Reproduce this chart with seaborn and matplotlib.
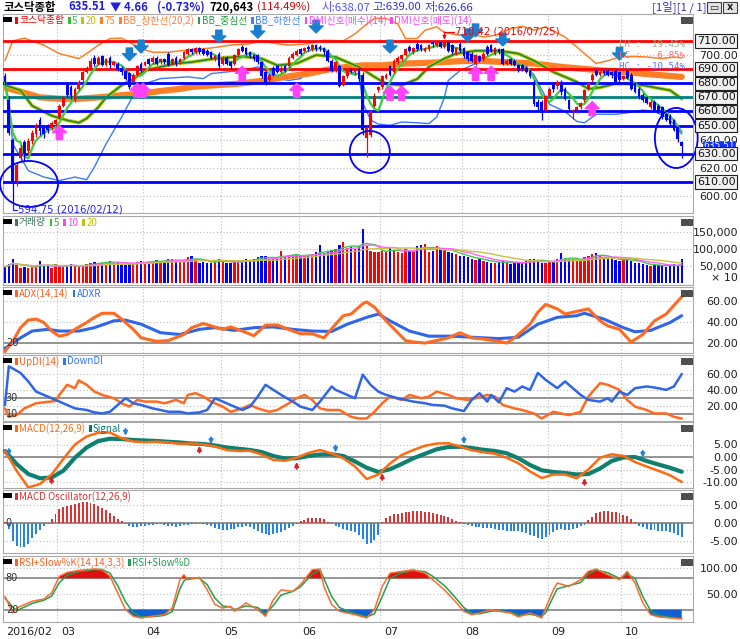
import numpy as np
import pandas as pd
import matplotlib
matplotlib.use("Agg")
import matplotlib.pyplot as plt
import matplotlib.transforms as mtransforms
from matplotlib.patches import Ellipse, Rectangle
import seaborn as sns

sns.set_theme(style="white")
plt.rcParams["font.family"] = ["DejaVu Sans", "Noto Sans CJK KR"]
plt.rcParams["axes.unicode_minus"] = False
KR = ["Noto Sans CJK KR", "DejaVu Sans"]

# ---------------- data ----------------
month_start = [0, 14, 36, 56, 76, 97, 118, 140, 159]
month_label = ["2016/02", "03", "04", "05", "06", "07", "08", "09", "10"]

opens = np.array([
    685, 668, 640, 611, 627, 638, 632, 639, 644, 654,
    648, 650, 649, 651, 656, 664, 679, 677, 668, 676,
    682, 688, 691, 698, 694, 699, 693, 698, 693, 694,
    691, 689, 687, 681, 686, 694, 693, 697, 695, 698,
    695, 697, 701, 694, 698, 695, 698, 701, 704, 702,
    705, 704, 703, 702, 697, 701, 694, 698, 695, 694,
    700, 706, 705, 702, 700, 700, 695, 688, 682, 691,
    692, 688, 692, 692, 698, 700, 704, 703, 706, 704,
    707, 706, 705, 703, 696, 690, 692, 679, 685, 690,
    688, 690, 686, 641, 643, 664, 675, 677, 684, 692,
    688, 695, 697, 700, 706, 702, 708, 707, 703, 704,
    709, 707, 709, 706, 709, 707, 701, 708, 705, 702,
    701, 694, 699, 697, 706, 707, 701, 704, 704, 694,
    697, 696, 693, 693, 691, 689, 681, 667, 667, 661,
    671, 680, 678, 681, 676, 668, 660, 661, 663, 668,
    676, 682, 689, 686, 689, 689, 688, 689, 688, 683,
    689, 686, 680, 676, 672, 670, 663, 667, 664, 663,
    658, 657, 654, 649, 638.07])
closes = np.array([
    681, 645, 609, 622, 634, 630, 639, 645, 650, 646,
    644, 647, 652, 654, 664, 670, 672, 671, 676, 681,
    688, 691, 696, 694, 698, 693, 697, 693, 695, 690,
    688, 683, 677, 686, 692, 689, 695, 694, 698, 694,
    697, 695, 693, 697, 694, 697, 702, 704, 702, 705,
    702, 701, 700, 698, 699, 692, 698, 694, 692, 700,
    704, 703, 701, 699, 697, 695, 685, 681, 686, 686,
    688, 691, 689, 698, 701, 703, 701, 705, 704, 707,
    704, 704, 702, 696, 689, 695, 678, 685, 689, 688,
    690, 683, 647, 648, 660, 671, 677, 685, 686, 686,
    696, 698, 700, 704, 703, 705, 704, 704, 705, 707,
    708, 709, 706, 709, 703, 702, 705, 703, 699, 697,
    696, 700, 696, 701, 701, 703, 705, 702, 694, 696,
    694, 693, 689, 690, 688, 685, 665, 663, 659, 671,
    676, 676, 681, 674, 669, 662, 661, 663, 666, 675,
    680, 686, 686, 688, 687, 686, 686, 681, 682, 685,
    684, 676, 674, 670, 668, 666, 667, 661, 660, 656,
    654, 651, 647, 640.17, 635.51])
highs = np.array([
    687, 671, 641, 624, 636, 640, 641, 647, 652, 656,
    649, 651, 653, 655, 665, 671, 681, 679, 677, 682,
    689, 692, 698, 700, 699, 700, 698, 699, 696, 695,
    692, 690, 688, 687, 693, 695, 696, 698, 699, 699,
    698, 698, 702, 698, 699, 698, 703, 705, 705, 706,
    706, 705, 704, 703, 700, 702, 699, 699, 696, 701,
    705, 707, 706, 703, 701, 701, 696, 689, 687, 692,
    693, 692, 693, 699, 702, 704, 705, 706, 707, 708,
    708, 707, 706, 704, 697, 696, 693, 686, 690, 691,
    691, 691, 688, 650, 661, 673, 678, 686, 687, 693,
    697, 699, 701, 705, 707, 706, 709, 708, 706, 708,
    709.5, 709.8, 709.6, 710.42, 710, 708, 706, 709, 706, 703,
    702, 701, 700, 702, 707, 708, 706, 705, 705, 697,
    698, 697, 694, 694, 692, 690, 682, 669, 668, 672,
    677, 681, 682, 682, 677, 669, 662, 664, 667, 676,
    681, 687, 690, 689, 690, 690, 689, 690, 689, 686,
    690, 687, 681, 677, 673, 671, 668, 668, 665, 664,
    659, 658, 655, 650, 639])
lows = np.array([
    679, 643, 594.75, 607, 625, 625, 630, 637, 642, 643,
    641, 645, 647, 650, 655, 663, 670, 669, 667, 675,
    681, 687, 690, 692, 693, 692, 692, 691, 692, 689,
    686, 682, 676, 680, 685, 688, 692, 693, 694, 693,
    694, 694, 692, 693, 692, 694, 697, 700, 701, 701,
    701, 700, 699, 697, 696, 690, 693, 693, 690, 693,
    699, 702, 700, 698, 696, 694, 684, 679, 681, 685,
    687, 687, 688, 691, 697, 699, 700, 702, 703, 703,
    703, 703, 700, 695, 688, 688, 677, 678, 684, 687,
    686, 681, 643, 628, 642, 663, 674, 676, 683, 685,
    687, 694, 696, 699, 702, 701, 703, 703, 702, 703,
    706, 706, 705, 705, 702, 701, 700, 702, 698, 696,
    695, 693, 695, 696, 700, 702, 700, 701, 693, 693,
    693, 692, 688, 689, 687, 684, 664, 660, 654, 660,
    670, 674, 676, 672, 668, 661, 655, 659, 662, 667,
    675, 681, 685, 685, 686, 685, 684, 680, 681, 682,
    683, 675, 673, 669, 667, 665, 662, 660, 659, 655,
    653, 650, 646, 638, 626.66])
# volume in thousands (axis labelled x10)
volume = np.array([
    48, 55, 70, 52, 45, 48, 43, 46, 50, 64, 50, 52, 44, 55,
    50, 48, 52, 55, 50, 46, 52, 55, 60, 62, 58, 60, 62, 65, 60, 58, 55, 53, 56, 60, 62, 64,
    60, 63, 65, 68, 62, 66, 72, 70, 64, 62, 68, 75, 78, 72, 60, 62, 58, 60, 65, 70,
    62, 58, 60, 66, 62, 65, 70, 68, 72, 75, 80, 78, 70, 72, 75, 95, 80, 78, 82, 85,
    78, 82, 80, 85, 90, 111, 88, 92, 95, 100, 113, 122, 103, 105, 100, 108, 160, 108, 95, 92, 90,
    95, 92, 105, 98, 90, 88, 100, 95, 92, 110, 112, 115, 90, 95, 108, 100, 96, 92, 88, 85, 80,
    78, 75, 70, 68, 72, 65, 62, 58, 60, 62, 65, 58, 55, 60, 62, 58, 65, 70, 72, 68, 60, 58,
    62, 65, 70, 87, 72, 68, 70, 65, 72, 75, 80, 85, 88, 78, 75, 72, 70, 68, 65,
    68, 72, 65, 60, 58, 55, 52, 50, 55, 52, 50, 48, 52, 55, 50, 72])

ma20_day = [0, 4, 7, 12, 16, 19, 21, 24, 26, 30, 33, 36, 40, 44, 48, 54, 61, 66, 70, 75,
            80, 85, 88, 91, 95, 98, 102, 106, 109, 113, 116, 121, 127, 132, 136, 141, 147,
            150, 153, 157, 160, 164, 167, 171, 174]
ma20 = [678.6, 675, 664, 657, 653.7, 652, 655, 663, 670, 678.6, 683, 689, 691.6, 694, 695,
        697.5, 699, 697.5, 692.7, 694, 700, 698.6, 695, 691.6, 684.5, 679.7, 678.6, 683,
        691.6, 697.5, 701, 703, 703, 701, 696, 688, 681, 676, 677, 679.7, 679.7, 678.6,
        677, 675, 669]
ma75_day = [0, 4, 9, 14, 19, 24, 30, 35, 40, 45, 48, 54, 60, 67, 72, 78, 83, 88, 92, 97,
            103, 108, 113, 118, 123, 128, 133, 136, 143, 148, 153, 159, 164, 169, 174]
ma75 = [677, 674, 670, 669, 669, 670, 671.5, 672.6, 674.5, 676, 677.4, 678.6, 679.7, 682,
        684.5, 686.8, 689.7, 691.6, 692.7, 692.7, 694, 694.4, 695, 695.8, 695.8, 695, 694.4,
        694, 691.6, 690.4, 689.2, 688, 686.8, 685.6, 684.5]
bbu_day = [0, 2, 5, 10, 14, 19, 21, 24, 27, 30, 32, 35, 38, 42, 45, 47, 53, 58, 63, 66, 70,
           73, 78, 82, 87, 90, 93, 95, 98, 101, 103, 106, 108, 111, 113, 117, 120, 123, 126,
           130, 133, 136, 139, 144, 148, 152, 155, 158, 162, 165, 169, 172, 174]
bbu = [696, 710, 712, 707, 701, 697.5, 701, 707, 711.7, 712, 709, 704.6, 702, 702, 703,
       703.4, 705, 707, 708, 710, 708, 707, 708, 710.5, 710, 715, 722, 726, 726, 722, 711.7,
       711.7, 717.6, 720, 716, 714, 715, 712.8, 714, 718.7, 720.4, 717.6, 720, 712.8, 703.4,
       694, 696, 698.6, 699, 698.6, 697.5, 698.6, 698]
bbl_day = [0, 1, 2, 4, 6, 10, 14, 18, 21, 23, 26, 30, 33, 36, 40, 44, 47, 51, 53, 57, 61, 65,
           66, 68, 70, 73, 76, 78, 82, 85, 88, 91, 92, 94, 96, 99, 102, 106, 109, 111, 113,
           114, 117, 120, 123, 126, 130, 133, 136, 140, 144, 147, 149, 152, 157, 160, 164,
           167, 170, 172, 174]
bbl = [679.7, 668, 637, 627.7, 618, 613.5, 611, 613.5, 611.6, 620.6, 637, 656, 671.5, 679.7,
       683.3, 684, 684.5, 683.3, 686.8, 688, 689, 691.6, 690.4, 686.8, 683.3, 682, 683.3, 688,
       689, 689.7, 689, 686, 666, 654, 651, 650.2, 652.5, 652, 651.4, 656, 670, 682, 689,
       692.7, 696, 696.8, 696, 695, 686, 665, 660, 653, 652, 658, 658, 659, 661, 660, 656,
       651, 644]

buy_day = [14, 34, 35.5, 61, 75, 99, 102, 121, 125, 151]
buy_tip = [650, 680, 680, 692, 680, 678, 678, 692, 692, 667]
sell_day = [32, 35, 55, 65, 80, 99, 119, 121, 128, 158]
sell_tip = [696, 701.5, 708.6, 712, 715.7, 701.5, 709.5, 713, 706.5, 696.5]
levels = [710, 690, 680, 670, 660, 650, 630, 610]
level_color = ["#ff0000", "#ff0000", "#0000ff", "#008080", "#0000ff", "#0000ff", "#0000ff", "#0000ff"]

adx_day = [0, 2, 4, 6, 8, 10, 12, 14, 16, 18, 21, 23, 25, 28, 30, 33, 35, 39, 42, 46, 48, 51,
           53, 56, 58, 61, 64, 67, 70, 74, 76, 79, 82, 85, 87, 89, 92, 93, 95, 98, 101, 103,
           105, 108, 110, 114, 117, 120, 124, 127, 129, 131, 135, 137, 139, 142, 144, 148,
           150, 153, 155, 158, 160, 161, 164, 167, 170, 172, 174]
adx = [12, 21.6, 34.6, 41.8, 42.8, 39.5, 31.4, 26.5, 28.1, 33, 39.5, 44.4, 48.3, 48.3, 42.8,
       33, 24.9, 21.6, 22.3, 28.1, 34.6, 38.5, 36.3, 33, 35.3, 31.4, 27, 37, 37.2, 31.4, 28.8,
       28.8, 24.9, 37.9, 46, 47.6, 57.4, 59, 54.1, 41.1, 29.8, 22.3, 21, 20, 21.6, 24.9, 29.8,
       24.9, 23.3, 21.6, 20, 24.9, 37.9, 49.3, 56.7, 52.5, 47.6, 50.9, 52.5, 41.1, 36.3, 33,
       24.9, 21, 28.1, 41.1, 47.6, 55.8, 63.9]
adxr_day = [0, 4, 7, 11, 14, 19, 23, 28, 31, 35, 40, 45, 50, 54, 59, 64, 69, 74, 79, 84, 88,
            93, 96, 99, 104, 109, 115, 120, 127, 132, 137, 142, 147, 149, 154, 159, 162, 166,
            171, 174]
adxr = [15, 24.9, 31.4, 33, 31.4, 31.4, 34.6, 41.1, 41.8, 37.9, 29.8, 28.1, 33, 34.6, 32,
        34.6, 35.3, 33, 31.4, 31, 37.9, 44.4, 47.6, 41.1, 31.4, 26.5, 26.5, 25.5, 24.2, 25.5,
        37.9, 44.4, 46, 48.3, 42.8, 34.6, 30.7, 32, 39.5, 46]

updi_day = [0, 1, 3, 5, 8, 10, 13, 14, 16, 18, 19, 21, 23, 25, 28, 30, 32, 34, 36, 39, 41, 44,
            46, 47, 49, 51, 53, 56, 58, 61, 63, 65, 68, 70, 73, 75, 77, 79, 81, 83, 86, 89, 91,
            93, 95, 97, 99, 102, 104, 107, 109, 111, 114, 116, 119, 121, 124, 126, 128, 131,
            133, 136, 138, 141, 143, 145, 148, 150, 153, 155, 158, 160, 162, 165, 167, 170,
            172, 174]
updi = [17, 6.5, 8.6, 17, 23.4, 24.6, 26.3, 33.9, 46.5, 42.3, 52, 46.5, 38, 33.9, 29.7, 23.4,
        19.2, 27.6, 25.5, 25.5, 23.4, 27.6, 23.4, 33.9, 36, 31.8, 25.5, 19.2, 12.8, 17, 21.3,
        17, 12.8, 15, 23.4, 29.7, 33.9, 27.6, 17, 15, 15, 6.5, 4.4, 4.4, 12.8, 23.4, 31.8,
        27.6, 33.9, 29.7, 31.8, 38, 33.9, 29.7, 27.6, 29.7, 33.9, 31.8, 21.3, 17, 15, 10.7,
        4.4, 12.8, 10.7, 8.6, 12.8, 31.8, 48.6, 46.5, 40.2, 27.6, 19.2, 15, 10.7, 10.7, 6.5,
        4.4]
dndi_day = [0, 1, 4, 6, 8, 11, 13, 16, 18, 21, 23, 25, 27, 29, 31, 33, 35, 38, 40, 42, 45, 47,
            50, 52, 54, 56, 58, 61, 63, 65, 67, 69, 71, 74, 76, 79, 81, 84, 85, 87, 90, 92, 94,
            96, 98, 101, 103, 105, 108, 110, 113, 115, 118, 120, 122, 124, 125, 127, 129, 131,
            133, 135, 137, 139, 142, 144, 145, 148, 150, 153, 155, 156, 158, 160, 162, 165,
            167, 170, 172, 174]
dndi = [21, 69.7, 61.3, 50.7, 38, 31.8, 27.6, 21.3, 17, 15, 12, 10.7, 12.8, 21.3, 29.7, 23.4,
        21.3, 17, 15, 12.8, 12.8, 10.7, 12, 15, 29.7, 25.5, 21.3, 15, 19.2, 31.8, 46.5, 40.2,
        33.9, 25.5, 19.2, 15, 25.5, 44.4, 40.2, 36, 29.7, 59.2, 46.5, 38, 33.9, 29.7, 27.6,
        25.5, 23.4, 21.3, 20.4, 17, 13.7, 27.6, 36, 25.5, 33.9, 24.6, 42.3, 38, 44.4, 40.2,
        61.3, 52.8, 42.3, 50.7, 46.5, 33.9, 27.6, 25.5, 29.7, 25.5, 38, 33.9, 42.3, 44.4,
        43.1, 40.2, 44.4, 60]

macd_day = list(range(0, 175, 3))
macd = [2.4, -5.5, -12.2, -10.8, -7, -0.8, 5, 8.2, 9.7, 9.8, 7.5, 6.2, 5.9, 6.1, 5.8, 5.3,
        5.4, 5, 4.2, 2.8, 2.4, 2.5, 1, -1.2, -1.5, -0.3, 1.6, 2.8, 1.4, -0.5, -3.8, -8.8, -7,
        -2.6, 0.8, 2.8, 4.5, 5.4, 5.5, 4.2, 2.7, 1.9, 1.3, -0.3, -2.5, -5.8, -8.4, -7, -7,
        -8.5, -5, -0.3, 1.1, 0.4, -2, -3.8, -5.5, -7.3, -10]
signal = [2.4, -2.8, -6.8, -8.5, -8.2, -5.5, -0.3, 3.8, 6.4, 7.3, 7.2, 6.8, 6.6, 6.4, 6.1,
          5.8, 5.4, 5.2, 4.6, 3.8, 3.3, 2.8, 2, 0.4, -0.6, -0.5, 0.4, 1, 1.1, 0.4, -1.8, -4.3,
          -6, -4.9, -2.8, -0.5, 1.3, 3.1, 4, 4.1, 3.6, 2.9, 2.4, 1.5, -0.5, -3.2, -5.3, -6,
          -6.4, -7, -6.8, -4.6, -1.6, -0.2, 0, -1.6, -3, -4.3, -5.9]
dead_day = [1, 31, 53, 85, 118, 164]
dead_tip = [0.4, 8.5, 5.1, 1.8, 5.1, -0.3]
gold_day = [12, 50, 75, 97, 149]
gold_tip = [-7.7, 4.5, -2, -6.4, -8.4]
osc = [0.2, -1.5, -5, -6.3, -6.7, -6.5, -5.8, -4.2, -3, -1.8,
       -0.9, -0.2, 1.2, 2.4, 3.8, 4.5, 4.8, 5.1, 5.3, 5.6,
       5.8, 5.9, 5.7, 5.3, 4.8, 4.2, 3.6, 2.8, 2, 1.2,
       0.5, -0.3, -0.8, -1, -1.1, -0.9, -0.8, -0.6, -0.4, -0.3,
       -0.3, -0.5, -0.8, -0.9, -1, -0.8, -0.6, -0.5, -0.3, -0.2,
       0.1, -0.2, -0.5, -0.9, -1.3, -1.6, -1.8, -1.9, -1.7, -1.5,
       -1.2, -1, -0.9, -1, -1.6, -2.3, -2.8, -3.1, -3.2, -3,
       -2.7, -2.4, -1.9, -1.3, -0.8, -0.2, 0.6, 1, 1.3, 1.5,
       1.5, 1.5, 1.2, 0.4, -0.3, -0.7, -1.2, -1.5, -1.8, -2.2,
       -2.6, -3.2, -4.5, -5.8, -5.6, -4.8, -3.2, 0.4, 1.3, 2,
       2.4, 2.6, 2.8, 3, 3.2, 3.4, 3.5, 3.4, 3.2, 3,
       2.8, 2.6, 2.3, 2, 1.6, 1.1, 0.7, 0.3, -0.3, -0.6,
       -0.9, -1, -1.2, -1.4, -1.3, -1.4, -1.6, -1.8, -2, -2.1,
       -2.2, -2.1, -2.3, -2.5, -2.8, -3.2, -3.6, -4, -4.3, -3.9,
       -3.2, -2.5, -2, -1.6, -1.8, -2, -1.7, -1.3, -0.9, -0.4,
       0.9, 1.8, 2.7, 3.1, 3.3, 3.3, 3.2, 3, 2.7, 2.3,
       1.9, 1.1, 0.3, -0.7, -1.2, -1.6, -1.8, -2, -2.1, -2.2,
       -2.3, -2.5, -2.8, -3.2, -3.8]

rsi_day = [0, 2, 3, 5, 7, 10, 12, 14, 16, 19, 23, 25, 27, 29, 31, 33, 35, 39, 41, 43, 45, 46,
           47, 50, 52, 54, 56, 58, 59, 62, 65, 67, 69, 71, 74, 76, 79, 81, 82, 84, 86, 90, 93,
           95, 97, 99, 102, 105, 108, 110, 113, 115, 118, 120, 122, 125, 127, 130, 132, 135,
           138, 139, 141, 142, 145, 148, 150, 152, 155, 158, 160, 162, 164, 166, 168, 171, 174]
slow_k = [45.5, 13.6, 23, 29.6, 36, 40.4, 52, 84, 91.5, 95.3, 98, 96.6, 84, 52, 20, 7.2, 4,
          8.5, 10.4, 23, 77.4, 87, 77.4, 82, 58, 29.6, 23, 26.4, 16.8, 32.8, 20, 7.2, 39, 58,
          55, 68, 96.6, 98, 64.7, 29.6, 16.8, 10.4, 4, 20, 64.7, 90, 93.4, 96.6, 90, 77.4, 58,
          42.3, 16.8, 10.4, 13.6, 20, 16.8, 13.6, 6, 13.6, 4, 23, 58, 71, 64.7, 77.4, 93.4, 98,
          87, 77.4, 93.4, 71, 32.8, 10.4, 6, 4, 2.1]
slow_d = [42, 25, 18, 25, 32, 38, 46, 72, 86, 93, 97, 97, 90, 66, 35, 14, 6, 7, 9, 16, 60, 75,
          80, 80, 68, 42, 27, 25, 20, 27, 24, 12, 28, 48, 55, 64, 88, 96, 80, 45, 24, 12, 6,
          12, 45, 80, 91, 95, 93, 84, 66, 50, 24, 13, 12, 17, 18, 15, 9, 11, 7, 14, 45, 60, 66,
          72, 88, 96, 91, 80, 88, 80, 45, 18, 9, 5, 3]

# ---------------- drawing ----------------
W, H = 740, 639
fig = plt.figure(figsize=(W / 100, H / 100), dpi=100)
fig.patch.set_facecolor("white")
renderer = fig.canvas.get_renderer()
days = np.arange(len(closes))
candle_col = np.where(closes >= opens, "#ff0000", "#0000ff")
DOT = (0, (1, 2))


def px(x, y):
    return x / W, 1 - y / H


def panel(top, bottom):
    ax = fig.add_axes([3 / W, 1 - bottom / H, 690 / W, (bottom - top) / H])
    ax.set_facecolor("white")
    ax.set_xticks([])
    for s in ax.spines.values():
        s.set_color("#a8a8a8")
        s.set_linewidth(0.8)
    for m in month_start[1:]:
        ax.axvline(m - 0.5, color="#bdbdbd", ls=DOT, lw=0.8, zorder=0)
    # little window buttons top-right
    for bx in (681, 687):
        fig.add_artist(Rectangle(px(bx, top + 9), 5 / W, 6 / H, transform=fig.transFigure,
                                 fc="#505050", ec="#202020", lw=0.5))
    return ax


def right_ticks(ax, ticks, labels, grid=True):
    ax.yaxis.tick_right()
    ax.set_yticks(ticks)
    ax.set_yticklabels(labels)
    ax.tick_params(axis="y", length=0, pad=32.4, labelsize=8, labelcolor="#202020")
    for lab in ax.get_yticklabels():
        lab.set_horizontalalignment("right")
    if grid:
        for t in ticks:
            ax.axhline(t, color="#bdbdbd", ls=DOT, lw=0.8, zorder=0)


def ref_line(ax, v, text=None):
    ax.axhline(v, color="#8c8c8c", lw=1.3, zorder=1)
    if text:
        tr = mtransforms.blended_transform_factory(ax.transAxes, ax.transData)
        ax.text(0.004, v, text, transform=tr, fontsize=7, color="#303030",
                va="center", ha="left", zorder=6)


def legend(top, items, fs=7):
    fig.add_artist(Rectangle(px(3, top + 8), 9 / W, 5 / H, transform=fig.transFigure,
                             fc="black", ec="none"))
    x = 15
    for label, color in items:
        fig.add_artist(Rectangle(px(x, top + 10), 2.5 / W, 7 / H, transform=fig.transFigure,
                                 fc=color, ec="none"))
        t = fig.text(*px(x + 4, top + 6.5), label, color=color, fontsize=fs,
                     va="center", ha="left", family=KR)
        x += 4 + t.get_window_extent(renderer).width + 4


def line(ax, x, y, color, lw, z=4):
    sns.lineplot(x=np.asarray(x), y=np.asarray(y, float), ax=ax, color=color,
                 linewidth=lw, zorder=z, legend=False, errorbar=None)


# ---- header ----
head = [(4, "코스닥종합", "#000000", True), (68, f"{closes[-1]:.2f}", "#2020e0", True),
        (110, f"▼ {closes[-2] - closes[-1]:.2f}", "#2020e0", True),
        (157, f"({(closes[-1] / closes[-2] - 1) * 100:.2f}%)", "#2020e0", True),
        (209, "720,643", "#000000", True), (257, "(114.49%)", "#e00000", False),
        (322, "시:638.07", "#5050ff", False), (372, "고:639.00", "#3030e0", False),
        (425, "저:626.66", "#3030e0", False), (652, "[1일][1 / 1]", "#3030c0", False)]
for x, s, c, b in head:
    fig.text(*px(x, 7), s, color=c, fontsize=8.2, va="center", ha="left", family=KR,
             fontweight="bold" if b else "normal")
for bx, s in ((707, "▭"), (723, "x")):
    fig.add_artist(Rectangle(px(bx, 13), 14 / W, 11 / H, transform=fig.transFigure,
                             fc="#e4e4e4", ec="#404040", lw=0.8))
    fig.text(*px(bx + 7, 7.5), s, fontsize=7, ha="center", va="center", color="#202020",
             fontweight="bold")

# ---- price panel ----
axp = panel(14, 213)
for v, c in zip(levels, level_color):
    axp.axhline(v, color=c, lw=2.0, zorder=3)
line(axp, bbu_day, bbu, "#ff7f27", 1.1, 2)
line(axp, bbl_day, bbl, "#3c78ff", 1.0, 2)
line(axp, ma75_day, ma75, "#ff7f27", 4.5, 2)
line(axp, ma20_day, ma20, "#c8c800", 2.6, 2)
line(axp, ma20_day, ma20, "#1e8a2e", 1.2, 2)
line(axp, days, pd.Series(closes).rolling(5, min_periods=1).mean(), "#3ccc3c", 1.6, 4)
axp.vlines(days, lows, highs, colors=candle_col, lw=0.9, zorder=5)
axp.bar(days, np.maximum(np.abs(closes - opens), 0.5), bottom=np.minimum(opens, closes),
        width=0.7, color=candle_col, linewidth=0, zorder=5)
for d, tip in zip(buy_day, buy_tip):
    axp.annotate("", xy=(d, tip), xytext=(d, tip - 10),
                 arrowprops=dict(arrowstyle="simple,head_length=0.5,head_width=1.0,tail_width=0.45",
                                 color="#ff40ff", mutation_scale=10, shrinkA=0, shrinkB=0), zorder=7)
for d, tip in zip(sell_day, sell_tip):
    axp.annotate("", xy=(d, tip), xytext=(d, tip + 9),
                 arrowprops=dict(arrowstyle="simple,head_length=0.5,head_width=1.0,tail_width=0.45",
                                 color="#1a7fd0", mutation_scale=10, shrinkA=0, shrinkB=0), zorder=7)
for cx, cy, w, h in [(6.2, 608.6, 14.9, 32.6), (93.8, 631.3, 10.3, 29.8), (172.6, 641.2, 11.0, 42.6)]:
    axp.add_patch(Ellipse((cx, cy), w, h, fill=False, ec="#0000ff", lw=1.3, zorder=8,
                          clip_on=False))
lo_d = int(np.argmin(lows))
axp.plot([lo_d, lo_d, lo_d + 1.1], [lows[lo_d], 590.3, 590.3], color="#2020ff", lw=0.9,
         zorder=8, clip_on=False)
axp.text(lo_d + 1.3, 590.3, f"{lows.min():.2f} (2016/02/12)", color="#2020ff", fontsize=7.3,
         va="center", ha="left", zorder=8, clip_on=False)
hi_d = int(np.argmax(highs))
axp.plot([hi_d + 2.4, hi_d], [716.4, 716.4], color="#ff0000", lw=0.9, zorder=8)
axp.annotate("", xy=(hi_d, highs.max() + 0.5), xytext=(hi_d, 716.4),
             arrowprops=dict(arrowstyle="-|>", color="#ff0000", lw=0.9, mutation_scale=5,
                             shrinkA=0, shrinkB=0), zorder=8)
axp.text(hi_d + 2.6, 716.4, f"{highs.max():.2f} (2016/07/25)", color="#ff0000", fontsize=7.3,
         va="center", ha="left", zorder=8)
for yv, s, c in [(707.2, "LH :  19.45%", "#8fb08f"), (699.4, "LC :   6.85%", "#ff6a6a"),
                 (691.6, "HC : -10.54%", "#6a6aff")]:
    axp.text(174.8, yv, s, color=c, fontsize=6.6, family="DejaVu Sans Mono", ha="right",
             va="center", zorder=9)
right_ticks(axp, [600, 620, 640, 700], ["600.00", "620.00", "640.00", "700.00"])
trp = mtransforms.blended_transform_factory(axp.transAxes, axp.transData)
for v in levels:
    axp.text(694 / 690, v, f"{v:.2f}", transform=trp, ha="left", va="center", fontsize=8,
             color="#101010", clip_on=False, zorder=10,
             bbox=dict(boxstyle="square,pad=0.15", fc="#f0f0f0", ec="#202020", lw=0.8))
axp.text(732 / 690, closes[-1], f"{closes[-1]:.2f}", transform=trp, ha="right",
         va="center", fontsize=6.5, color="white", clip_on=False, zorder=9,
         bbox=dict(boxstyle="square,pad=0.05", fc="#1030ff", ec="#1030ff", lw=0.5))
axp.set_ylim(588.0, 729.1)
legend(14, [("코스닥종합", "#ff0000"), ("5", "#30c030"), ("20", "#c8c000"), ("75", "#ff7f20"),
            ("BB_상한선(20,2)", "#ff8040"), ("BB_중심선", "#20a040"), ("BB_하한선", "#4080ff"),
            ("DMI신호(매수)(14)", "#ff40ff"), ("DMI신호(매도)(14)", "#ff40ff")])

# ---- volume panel ----
axv = panel(216, 285)
axv.bar(days, volume, width=0.6, color=candle_col, linewidth=0, zorder=3)
vs = pd.Series(volume, dtype=float)
line(axv, days, vs.rolling(5, min_periods=1).mean(), "#3cc850", 1.0)
line(axv, days, vs.rolling(10, min_periods=1).mean(), "#ff60ff", 1.0)
line(axv, days, vs.rolling(20, min_periods=1).mean(), "#c8c040", 1.0)
right_ticks(axv, [50, 100, 150], ["50,000", "100,000", "150,000"])
trv = mtransforms.blended_transform_factory(axv.transAxes, axv.transData)
axv.text(735 / 690, 14.7, "× 10", transform=trv, ha="right", va="center", fontsize=8,
         color="#202020", clip_on=False)
axv.set_ylim(-5.9, 197)
legend(216, [("거래량", "#3a7a5a"), ("5", "#30c030"), ("10", "#ff40ff"), ("20", "#c8c000")])

# ---- ADX panel ----
axa = panel(287, 353)
ref_line(axa, 20, "20")
line(axa, adxr_day, adxr, "#2f66e8", 2.2)
line(axa, adx_day, adx, "#ff6a20", 2.2)
right_ticks(axa, [20, 40, 60], ["20.00", "40.00", "60.00"])
axa.set_ylim(10.5, 73.3)
legend(287, [("ADX(14,14)", "#ff6020"), ("ADXR", "#3070ff")])

# ---- DI panel ----
axd = panel(355, 421)
ref_line(axd, 30, "30")
ref_line(axd, 10, "10")
line(axd, updi_day, updi, "#ff6a20", 1.8)
line(axd, dndi_day, dndi, "#2f66e8", 1.8)
right_ticks(axd, [20, 40, 60], ["20.00", "40.00", "60.00"])
axd.set_ylim(1.25, 83.75)
legend(355, [("UpDI(14)", "#ff6020"), ("DownDI", "#3070ff")])

# ---- MACD panel ----
axm = panel(422, 488)
ref_line(axm, 0)
line(axm, macd_day, signal, "#0f8070", 3.0)
line(axm, macd_day, macd, "#ff6a10", 1.8)
for d, tip in zip(dead_day, dead_tip):
    axm.annotate("", xy=(d, tip), xytext=(d, tip + 2.8),
                 arrowprops=dict(arrowstyle="-|>", color="#2080e0", lw=1.3, mutation_scale=6,
                                 shrinkA=0, shrinkB=0), zorder=7)
for d, tip in zip(gold_day, gold_tip):
    axm.annotate("", xy=(d, tip), xytext=(d, tip - 2.8),
                 arrowprops=dict(arrowstyle="-|>", color="#e02020", lw=1.3, mutation_scale=6,
                                 shrinkA=0, shrinkB=0), zorder=7)
right_ticks(axm, [-10, -5, 0, 5], ["-10.00", "-5.00", "0.00", "5.00"])
axm.set_ylim(-12.4, 14)
legend(422, [("MACD(12,26,9)", "#ff6a10"), ("Signal", "#008070")])

# ---- MACD oscillator ----
axo = panel(490, 553)
ref_line(axo, 0, "0")
osc_a = np.array(osc)
axo.bar(days, osc_a, width=0.5, color=np.where(osc_a >= 0, "#e03030", "#2585e5"),
        linewidth=0, zorder=3)
right_ticks(axo, [-5, 0, 5], ["-5.00", "0.00", "5.00"])
axo.set_ylim(-8.3, 9.2)
legend(490, [("MACD Oscillator(12,26,9)", "#e03030")])

# ---- RSI slow stochastic ----
axr = panel(556, 622)
ref_line(axr, 80, "80")
ref_line(axr, 20, "20")
k = np.array(slow_k, float)
axr.fill_between(rsi_day, k, 80, where=k >= 80, interpolate=True, color="#e01010", lw=0, zorder=2)
axr.fill_between(rsi_day, k, 20, where=k <= 20, interpolate=True, color="#1060d0", lw=0, zorder=2)
line(axr, rsi_day, slow_d, "#20a050", 1.1)
line(axr, rsi_day, slow_k, "#ff6a30", 1.1)
right_ticks(axr, [50, 100], ["50.00", "100.00"])
axr.set_ylim(-3.8, 123)
axr.set_xticks([m - 0.5 for m in month_start[1:]])
axr.tick_params(axis="x", length=4, direction="out", color="#808080", labelbottom=False)
trr = mtransforms.blended_transform_factory(axr.transData, axr.transAxes)
for m, s in zip(month_start, month_label):
    axr.text(m - 0.5 + 0.9, -0.15, s, transform=trr, fontsize=8, ha="left", va="center",
             color="#202020", clip_on=False)
legend(556, [("RSI+Slow%K(14,14,3,3)", "#ff6020"), ("RSI+Slow%D", "#20a050")])

for ax in (axp, axv, axa, axd, axm, axo, axr):
    ax.set_xlim(-0.5, 176.9)
    ax.set_xlabel("")
    ax.set_ylabel("")

fig.savefig("out.png", dpi=100)
